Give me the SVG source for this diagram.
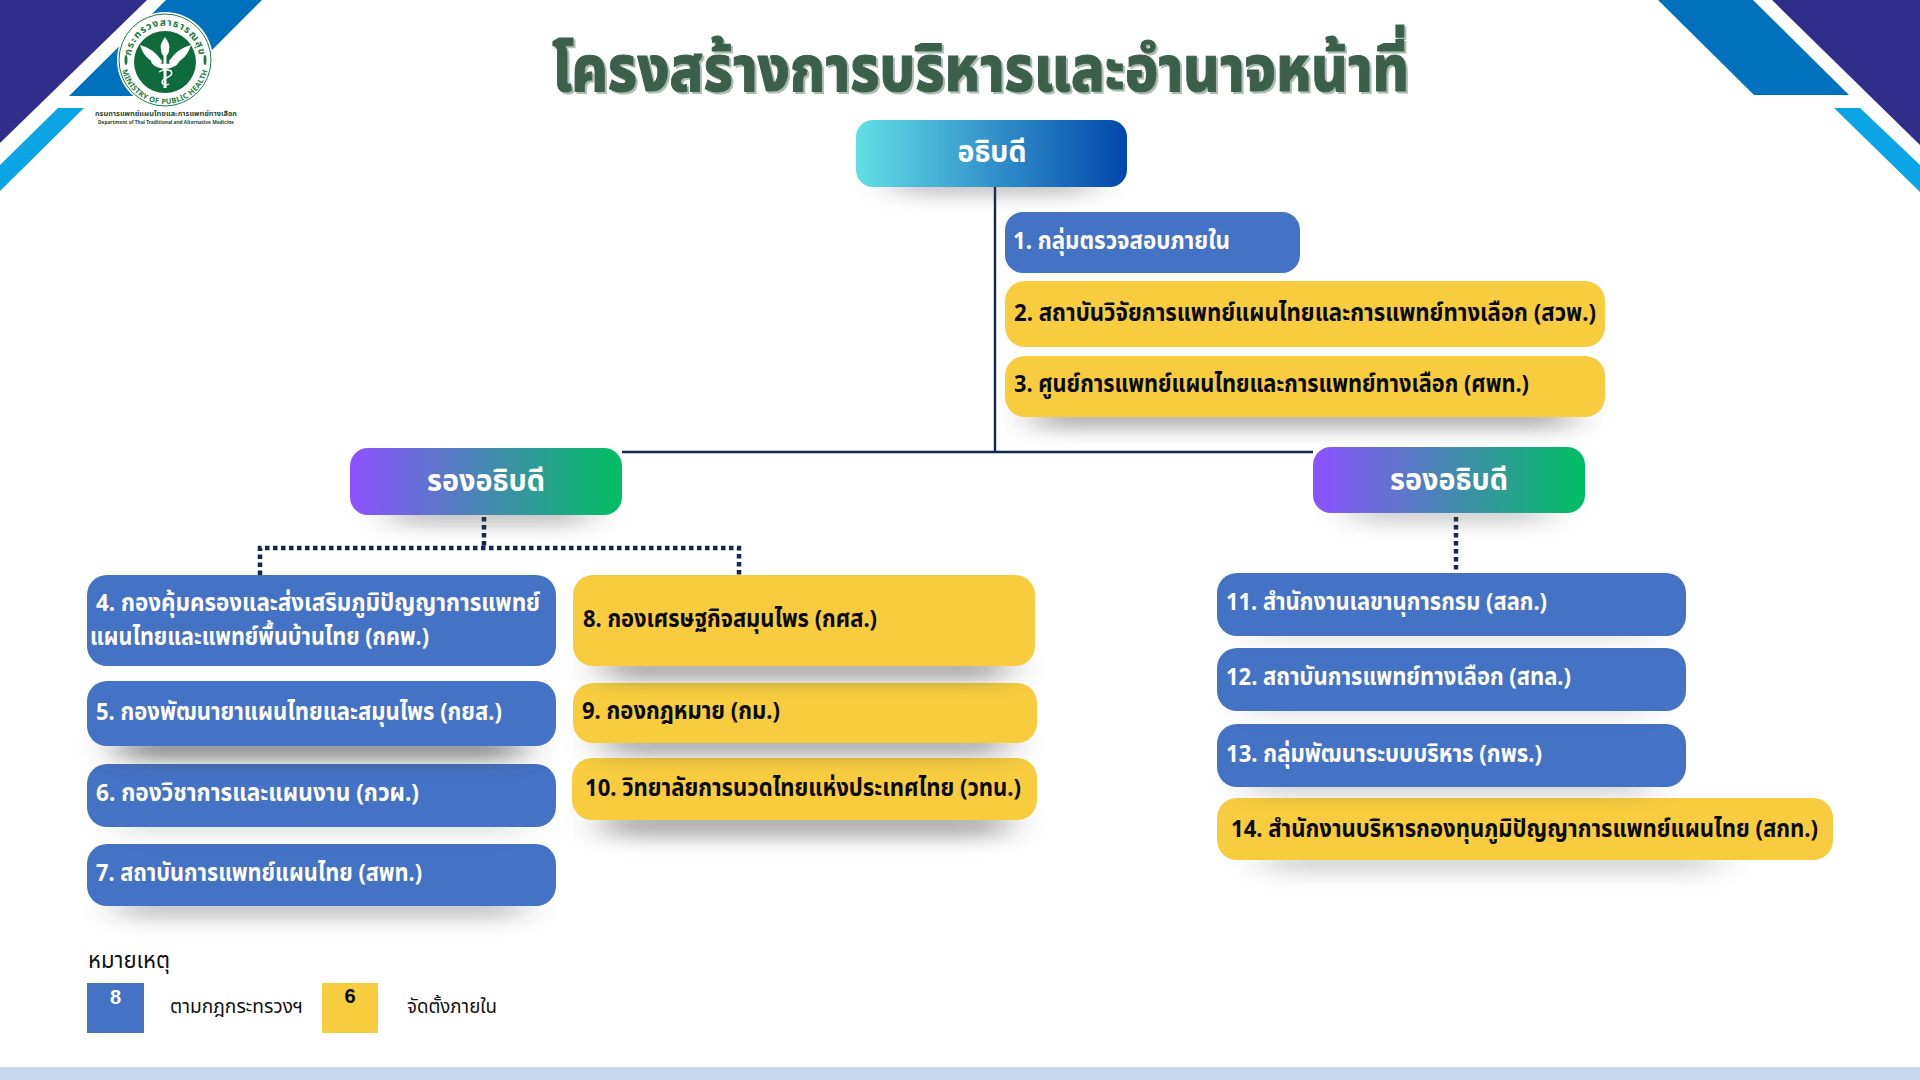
<svg xmlns="http://www.w3.org/2000/svg" width="1920" height="1080" viewBox="0 0 1920 1080">
<defs>
<linearGradient id="gRoot"><stop offset="0" stop-color="#62dfe6"/><stop offset="1" stop-color="#0346ac"/></linearGradient>
<linearGradient id="gDep"><stop offset="0" stop-color="#8c52ff"/><stop offset="1" stop-color="#00bf63"/></linearGradient>
<filter id="blur" x="-25%" y="-200%" width="150%" height="500%"><feGaussianBlur stdDeviation="20 9"/></filter>
<filter id="titleShadow" x="-5%" y="-20%" width="110%" height="140%"><feDropShadow dx="2" dy="2" stdDeviation="0.6" flood-color="#a9bcae"/></filter>
<path id="arcTop" d="M134 75 A34.400 34.400 0 1 1 196 75"/>
<path id="arcBot" d="M121 60 A44 44 0 0 0 209 60"/>
</defs>
<style>
text{font-family:"Noto Sans","Noto Sans Thai","Liberation Sans",sans-serif}
.b{fill:#4472c4}.y{fill:#f7cd3f}
.sh{fill:#444;filter:url(#blur)}
.tw{fill:#fff;font-size:24px;font-weight:700}
.tk{fill:#0a0a0a;font-size:24px;font-weight:700}
.head{fill:#fff;font-size:30px;font-weight:700;text-anchor:middle}
.plain{fill:#111;font-size:19px}
.con{fill:none;stroke:#16274f;stroke-width:2.4}
.dot{fill:none;stroke:#16274f;stroke-width:4.500;stroke-dasharray:4.500 3.500}
</style>
<rect width="1920" height="1080" fill="#fff"/>
<g id="decor">
<polygon points="0,0 147,0 0,143" fill="#312e8b"/>
<polygon points="166,0 262,0 166,96 69,96" fill="#0071bc"/>
<polygon points="58,108 84,108 0,191 0,165" fill="#0ba5e6"/>
<polygon points="1772,0 1920,0 1920,145" fill="#312e8b"/>
<polygon points="1658,0 1753,0 1849,95 1754,95" fill="#0071bc"/>
<polygon points="1834,108 1860,108 1920,165 1920,192" fill="#0ba5e6"/>
<rect y="1067" width="1920" height="13" fill="#c6d7ee"/>
</g>
<g id="logo">
<circle cx="165" cy="60" r="48" fill="#fff"/>
<circle cx="165" cy="60" r="46" fill="none" stroke="#1b7a45" stroke-width="1"/>
<circle cx="165" cy="62" r="31" fill="#0f6b3c"/>
<text font-size="10" font-weight="700" fill="#1b7a45" letter-spacing="1"><textPath href="#arcTop" startOffset="50%" text-anchor="middle">กระทรวงสาธารณสุข</textPath></text>
<text font-size="7.500" font-weight="700" fill="#1b7a45" letter-spacing=".3"><textPath href="#arcBot" startOffset="50%" text-anchor="middle">MINISTRY OF PUBLIC HEALTH</textPath></text>
<ellipse cx="126" cy="60" rx="1.500" ry="5" fill="#1b7a45"/>
<ellipse cx="205" cy="60" rx="1.500" ry="5" fill="#1b7a45"/>
<path d="M165 37q-6 8-4 13q0 5 4 6q4-1 4-6q2-5-4-13z" fill="#fff"/>
<path d="M163.500 55h3v33h-3z" fill="#fff"/>
<path d="M140 45q13 3 22 16l-1 4q-6 0-11-5q-7-5-10-15zM191 45q-13 3-22 16l1 4q6 0 11-5q7-5 10-15z" fill="#fff"/>
<path d="M151 60q14 8 28 0q0 7-14 9q-14-2-14-9z" fill="#fff"/>
<path d="M159 72q6-4 12-1q3 4-5 7q-6 3-3 6q3 2 6 0" fill="none" stroke="#fff" stroke-width="1.500"/>
<text x="95" y="116" font-size="7" font-weight="700" fill="#2b4a38" textLength="142" lengthAdjust="spacingAndGlyphs">กรมการแพทย์แผนไทยและการแพทย์ทางเลือก</text>
<text x="98" y="124" font-size="5" font-weight="700" fill="#2b4a38" textLength="136" lengthAdjust="spacingAndGlyphs">Department of Thai Traditional and Alternative Medicine</text>
</g>
<g id="title"><text x="552" y="91" font-size="63" font-weight="800" fill="#3a5f4b" stroke="#3a5f4b" stroke-width="1" filter="url(#titleShadow)" textLength="857" lengthAdjust="spacingAndGlyphs">โครงสร้างการบริหารและอำนาจหน้าที่</text></g>
<g id="connectors">
<path class="con" d="M995 187V452M622 452H1313"/>
<path class="dot" d="M484 517V548M260 575V548H739V575M1456 517V571"/>
</g>
<g id="n0"><rect class="sh" x="895" y="176" width="195" height="18" opacity=".38"/><rect x="856" y="120" width="271" height="67" rx="17" fill="url(#gRoot)"/><text class="head" x="992" y="162" textLength="69" lengthAdjust="spacingAndGlyphs">อธิบดี</text></g>
<g id="n1"><rect class="b" x="1005" y="212" width="295" height="61" rx="18"/><text class="tw" x="1013" y="249" textLength="217" lengthAdjust="spacingAndGlyphs">1. กลุ่มตรวจสอบภายใน</text></g>
<g id="n3"><rect class="sh" x="1035" y="405" width="535" height="24" opacity=".42"/><rect class="y" x="1005" y="356" width="600" height="61" rx="20"/><text class="tk" x="1014" y="392" textLength="515" lengthAdjust="spacingAndGlyphs">3. ศูนย์การแพทย์แผนไทยและการแพทย์ทางเลือก (ศพท.)</text></g>
<g id="n2"><rect class="y" x="1005" y="281" width="600" height="66" rx="20"/><text class="tk" x="1014" y="321" textLength="582" lengthAdjust="spacingAndGlyphs">2. สถาบันวิจัยการแพทย์แผนไทยและการแพทย์ทางเลือก (สวพ.)</text></g>
<g id="d1"><rect class="sh" x="392" y="505" width="195" height="20" opacity=".36"/><rect x="350" y="448" width="272" height="67" rx="18" fill="url(#gDep)"/><text class="head" x="486" y="491" textLength="118" lengthAdjust="spacingAndGlyphs">รองอธิบดี</text></g>
<g id="d2"><rect class="sh" x="1352" y="503" width="195" height="20" opacity=".28"/><rect x="1313" y="447" width="272" height="66" rx="18" fill="url(#gDep)"/><text class="head" x="1449" y="490" textLength="118" lengthAdjust="spacingAndGlyphs">รองอธิบดี</text></g>
<g id="n4"><rect class="b" x="87" y="575" width="469" height="91" rx="20"/><text class="tw" x="96" y="611" textLength="444" lengthAdjust="spacingAndGlyphs">4. กองคุ้มครองและส่งเสริมภูมิปัญญาการแพทย์</text><text class="tw" x="90" y="645" textLength="339" lengthAdjust="spacingAndGlyphs">แผนไทยและแพทย์พื้นบ้านไทย (กคพ.)</text></g>
<g id="n7"><rect class="sh" x="120" y="895" width="400" height="24" opacity=".32"/><rect class="b" x="87" y="844" width="469" height="62" rx="20"/><text class="tw" x="96" y="881" textLength="326" lengthAdjust="spacingAndGlyphs">7. สถาบันการแพทย์แผนไทย (สพท.)</text></g>
<g id="n6"><rect class="sh" x="120" y="816" width="400" height="18" opacity=".18"/><rect class="b" x="87" y="764" width="469" height="63" rx="20"/><text class="tw" x="96" y="801" textLength="323" lengthAdjust="spacingAndGlyphs">6. กองวิชาการและแผนงาน (กวผ.)</text></g>
<g id="n5"><rect class="sh" x="120" y="736" width="400" height="24" opacity=".62"/><rect class="b" x="87" y="681" width="469" height="65" rx="20"/><text class="tw" x="96" y="720" textLength="406" lengthAdjust="spacingAndGlyphs">5. กองพัฒนายาแผนไทยและสมุนไพร (กยส.)</text></g>
<g id="n10"><rect class="sh" x="605" y="808" width="400" height="30" opacity=".42"/><rect class="y" x="572" y="758" width="465" height="62" rx="20"/><text class="tk" x="585" y="796" textLength="436" lengthAdjust="spacingAndGlyphs">10. วิทยาลัยการนวดไทยแห่งประเทศไทย (วทน.)</text></g>
<g id="n9"><rect class="sh" x="605" y="733" width="400" height="22" opacity=".48"/><rect class="y" x="573" y="683" width="464" height="60" rx="20"/><text class="tk" x="582" y="719" textLength="198" lengthAdjust="spacingAndGlyphs">9. กองกฎหมาย (กม.)</text></g>
<g id="n8"><rect class="sh" x="605" y="656" width="400" height="24" opacity=".48"/><rect class="y" x="573" y="575" width="462" height="91" rx="20"/><text class="tk" x="583" y="627" textLength="294" lengthAdjust="spacingAndGlyphs">8. กองเศรษฐกิจสมุนไพร (กศส.)</text></g>
<g id="n14"><rect class="sh" x="1265" y="850" width="450" height="24" opacity=".22"/><rect class="y" x="1217" y="798" width="616" height="62" rx="20"/><text class="tk" x="1231" y="837" textLength="587" lengthAdjust="spacingAndGlyphs">14. สำนักงานบริหารกองทุนภูมิปัญญาการแพทย์แผนไทย (สกท.)</text></g>
<g id="n13"><rect class="sh" x="1250" y="776" width="400" height="18" opacity=".28"/><rect class="b" x="1217" y="724" width="469" height="63" rx="20"/><text class="tw" x="1226" y="762" textLength="316" lengthAdjust="spacingAndGlyphs">13. กลุ่มพัฒนาระบบบริหาร (กพร.)</text></g>
<g id="n12"><rect class="sh" x="1250" y="700" width="400" height="16" opacity=".18"/><rect class="b" x="1217" y="648" width="469" height="63" rx="20"/><text class="tw" x="1226" y="685" textLength="345" lengthAdjust="spacingAndGlyphs">12. สถาบันการแพทย์ทางเลือก (สทล.)</text></g>
<g id="n11"><rect class="sh" x="1250" y="626" width="400" height="14" opacity=".18"/><rect class="b" x="1217" y="573" width="469" height="63" rx="20"/><text class="tw" x="1226" y="610" textLength="321" lengthAdjust="spacingAndGlyphs">11. สำนักงานเลขานุการกรม (สลก.)</text></g>
<g id="legend">
<text class="plain" x="88" y="968" style="font-size:23px" textLength="82" lengthAdjust="spacingAndGlyphs">หมายเหตุ</text>
<rect class="b" x="87" y="983" width="57" height="50"/><text x="115.500" y="1004" font-size="20" font-weight="700" fill="#fff" text-anchor="middle" style="font-family:'Liberation Sans',sans-serif">8</text>
<text class="plain" x="170" y="1013" textLength="133" lengthAdjust="spacingAndGlyphs">ตามกฎกระทรวงฯ</text>
<rect class="y" x="322" y="983" width="56" height="50"/><text x="350" y="1003" font-size="20" font-weight="700" fill="#0a0a0a" text-anchor="middle" style="font-family:'Liberation Sans',sans-serif">6</text>
<text class="plain" x="407" y="1013" textLength="90" lengthAdjust="spacingAndGlyphs">จัดตั้งภายใน</text>
</g>
</svg>
